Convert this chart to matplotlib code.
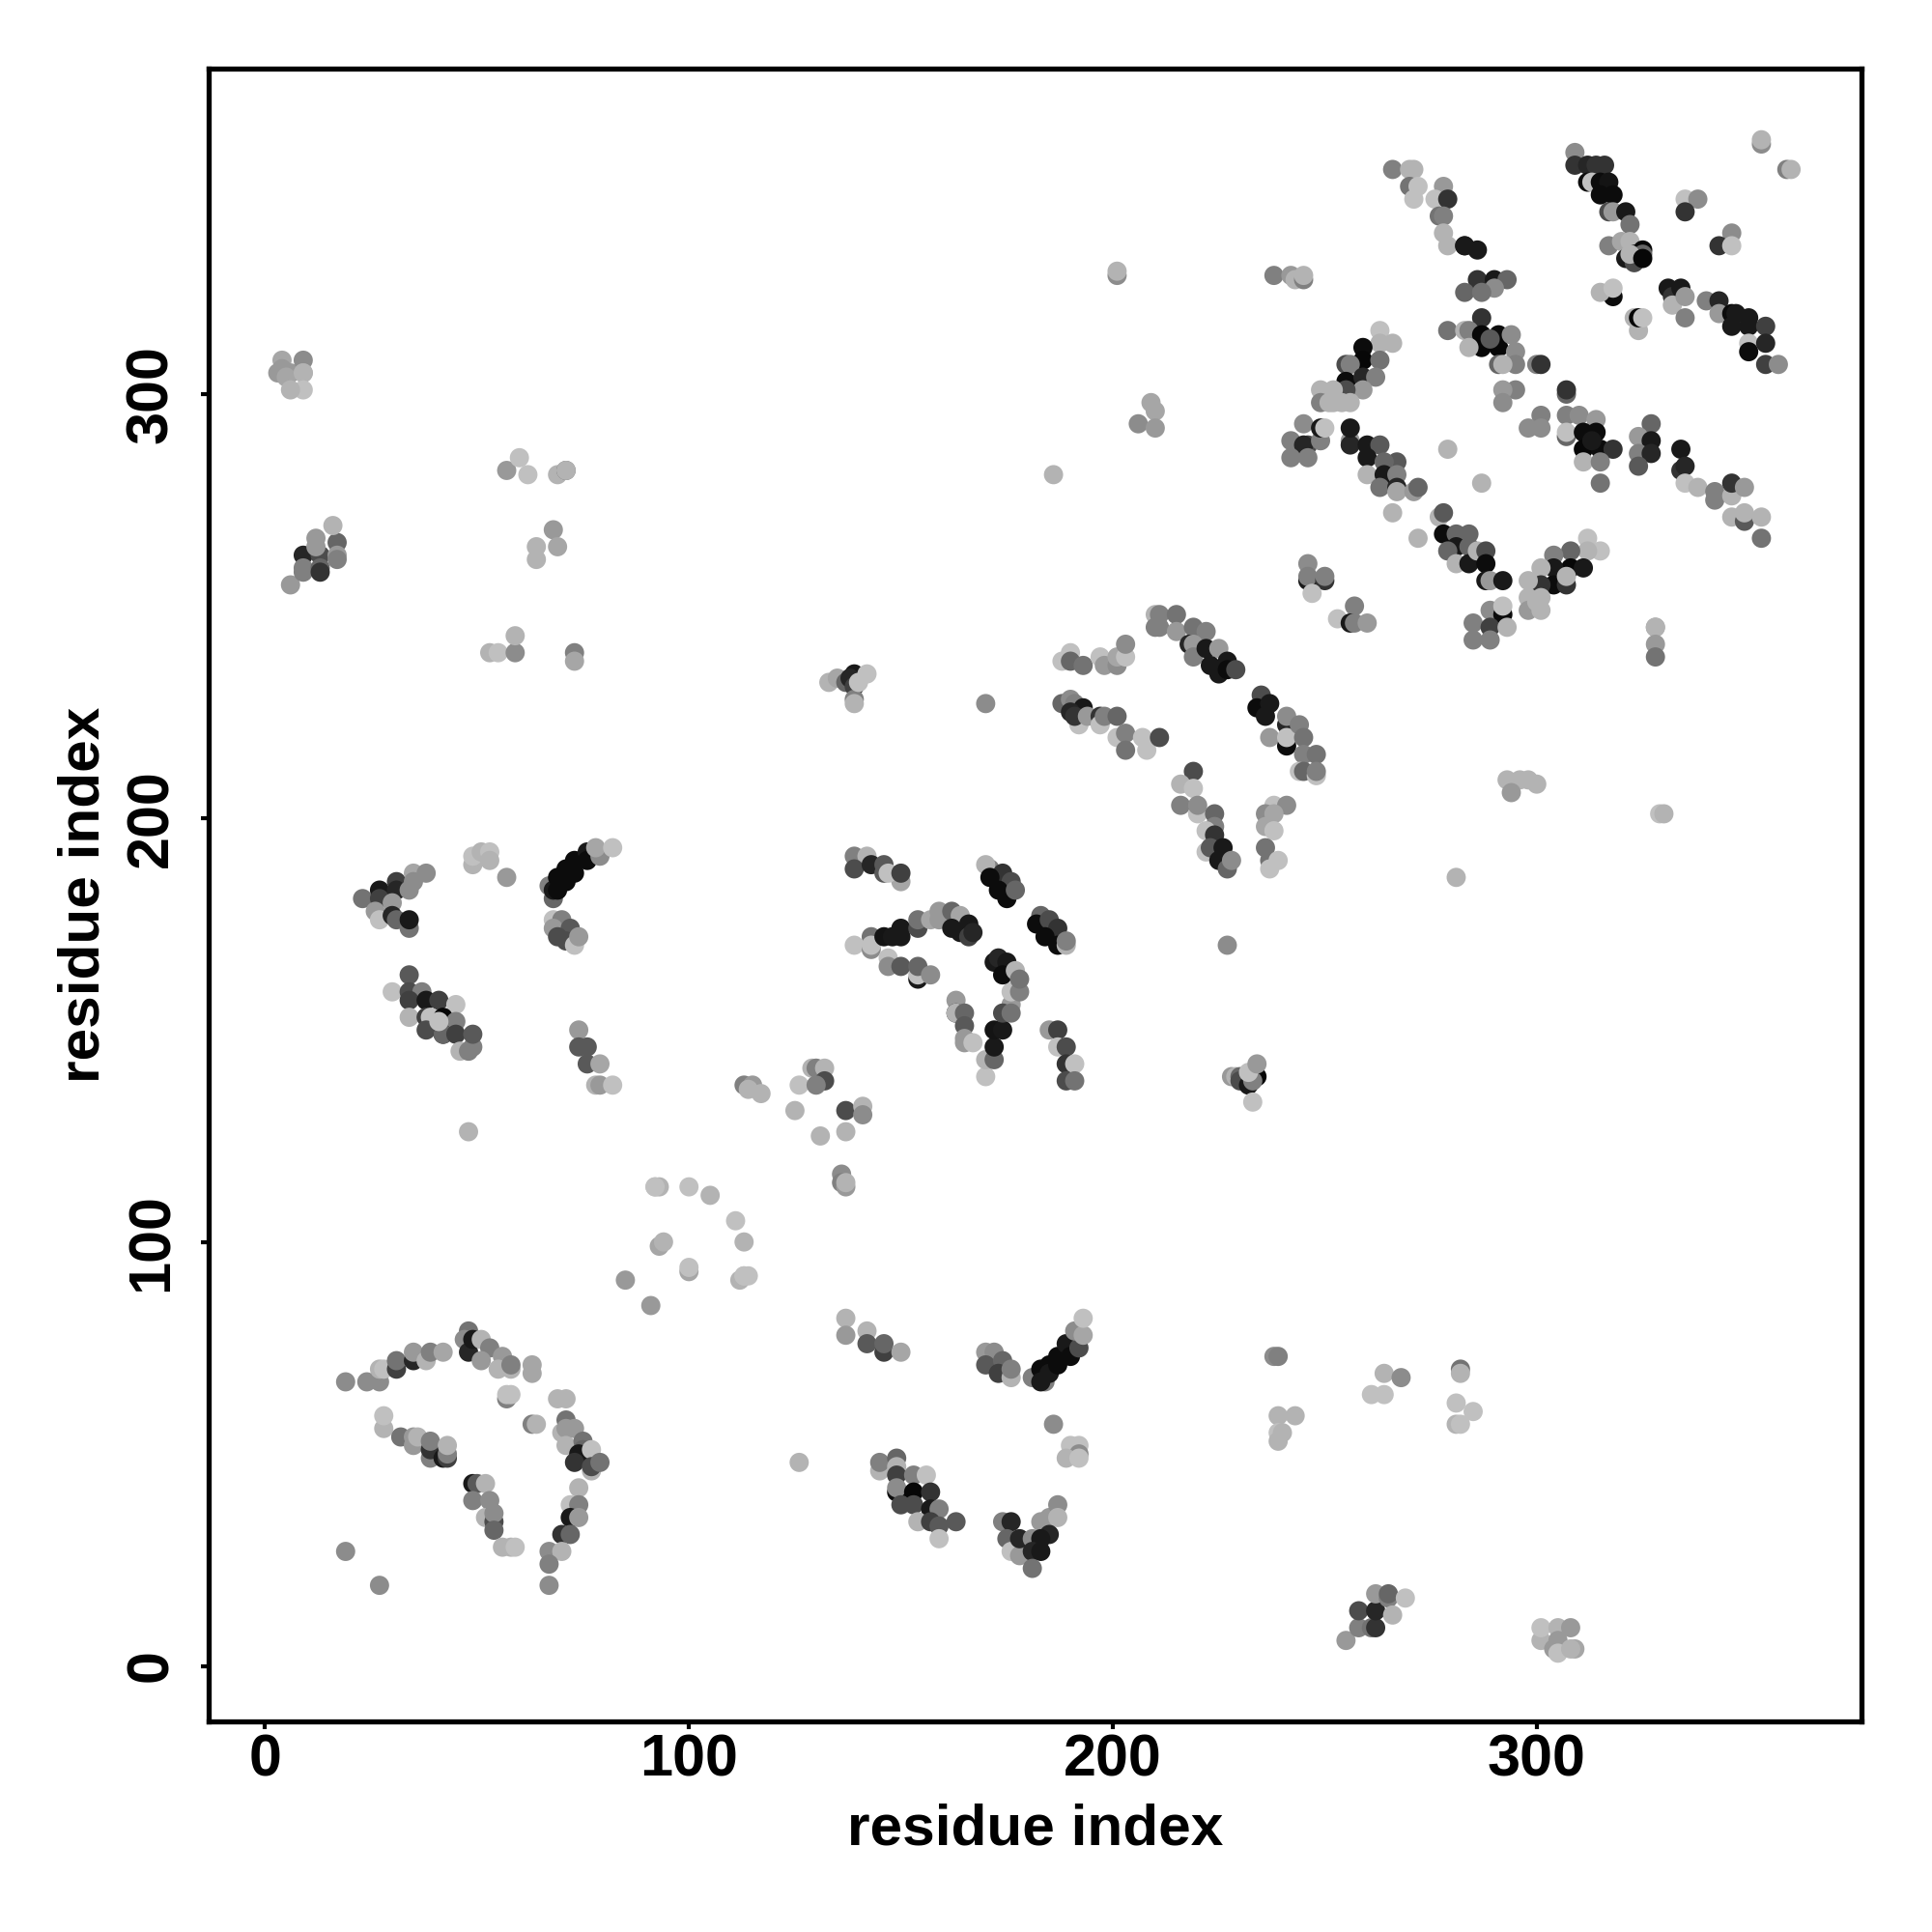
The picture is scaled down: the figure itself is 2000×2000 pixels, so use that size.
import numpy as np
import matplotlib
matplotlib.use("Agg")
import matplotlib.pyplot as plt

plt.rcParams['font.family'] = ['Liberation Sans', 'DejaVu Sans']

# contacts: (residue index, residue index, shade)
strand_top_right = [(309,357,.55),(309,354,.2),(312,354,.15),(314,354,.2),(316,354,.2),(312,350,.05),(313,350,.75),(315,350,.05),(317,350,.08),(315,347,.05),(318,347,.05),(317,343,.3),(318,343,.6),(321,343,.1),(322,340,.45),(317,335,.5),(320,336,.65),(322,336,.7),(321,332,.1),(323,333,.05),(325,334,.03),(323,331,.3),(325,333,.4),(322,333,.7),(325,332,.03),
 (331,325,.1),(332,323,.2),(334,325,.1),(332,321,.7),(335,323,.6),(335,318,.5),(340,322,.5),(343,322,.15),(343,319,.6),(346,319,.05),(347,319,.1),(346,316,.1),(350,316,.1),(350,318,.1),(354,316,.25),(350,312,.75),(350,310,.05),(354,312,.15),(354,307,.25),(357,307,.55)]
strand_top_mid = [(266,353,.5),(270,353,.7),(271,353,.7),(270,349,.45),(272,349,.75),(271,346,.75),(278,349,.6),(276,346,.75),(279,346,.2),(277,342,.45),(278,342,.5),(278,338,.7),(279,335,.7),(283,335,.15),(283,335,.1),(286,334,.1),
 (286,327,.2),(290,327,.1),(293,327,.4),(283,324,.4),(290,325,.55),(287,324,.45),(287,318,.2),(279,315,.45),(283,315,.7),(284,315,.5),(287,314,.03),(287,311,.03),(291,314,.05),(291,311,.03),(289,313,.35),(294,314,.55),(284,311,.7),(295,310,.55),(295,307,.5),(291,307,.4),(292,307,.7),(300,307,.5),(301,307,.2)]
strand_mid_right = [(307,300,.4),(307,301,.2),(295,301,.5),(292,301,.6),(292,298,.55),(301,295,.5),(298,292,.55),(301,292,.55),(307,295,.5),(310,295,.55),(314,294,.6),(307,290,.4),(307,291,.75),(311,291,.05),(314,291,.05),(311,287,.03),(315,287,.05),(313,289,.1),(318,287,.2),(311,284,.7),(315,284,.5),(315,279,.45),
 (327,293,.4),(324,290,.6),(327,289,.1),(324,286,.5),(327,286,.15),(324,283,.35),(334,287,.1),(334,282,.2),(335,283,.15),(335,279,.75),(338,278,.7),(342,277,.5),(342,275,.5),(346,276,.7),(346,279,.2),(349,278,.6),(346,271,.7),(349,270,.35),(349,272,.7),(353,271,.7),(353,266,.45)]
isolated_upper = [(353,359,.55),(353,360,.7),(359,353,.5),(360,353,.7),(335,346,.75),(338,346,.55),(335,343,.2),(346,338,.55),(343,335,.2),(346,335,.75),(318,323,.05),(315,324,.7),(318,325,.75),(324,315,.7),(323,318,.7),(324,318,.03),(325,318,.75),
 (279,287,.7),(287,279,.7),(266,272,.7),(272,266,.7),(238,328,.5),(242,328,.6),(243,327,.7),(245,327,.5),(245,328,.7),(201,328,.55),(201,329,.7),(206,293,.55),(209,298,.65),(210,296,.65),(210,292,.6),(186,281,.7),
 (281,186,.7),(293,209,.7),(296,209,.7),(298,209,.7),(300,208,.7),(294,206,.6),(329,201,.75),(330,201,.7),(227,170,.55),(170,227,.55)]
cluster_255_300 = [(263,315,.75),(263,312,.7),(266,312,.7),(259,311,.05),(259,308,.03),(263,308,.45),(255,307,.3),(256,307,.5),(255,303,.05),(259,304,.15),(262,304,.5),(259,301,.6),(255,301,.3),(252,301,.7),(249,301,.7),(252,298,.7),(256,298,.7),(249,298,.5),(251,298,.7),(254,298,.7),
 (245,293,.55),(242,289,.5),(246,288,.3),(245,288,.15),(249,289,.5),(249,292,.1),(250,292,.75),(242,285,.5),(246,285,.5),
 (256,289,.6),(256,288,.15),(256,292,.1),(260,288,.1),(263,288,.35),(260,285,.1),(260,281,.7),(267,284,.35),(264,284,.4),(264,281,.1),(267,281,.5),(263,278,.45),(267,278,.15),(267,277,.65),(271,277,.6),(272,278,.4)]
cluster_280_265 = [(277,271,.7),(278,272,.35),(278,267,.05),(281,267,.4),(284,267,.4),(281,264,.1),(284,264,.4),(279,263,.4),(281,260,.7),(284,260,.1),(286,263,.7),(288,263,.3),(288,260,.05),(288,256,.1),(289,256,.6),(292,256,.1),
 (312,266,.75),(315,263,.75),(312,263,.7),(308,263,.4),(304,262,.5),(308,259,.03),(311,259,.1),(304,259,.1),(301,259,.7),(304,255,.05),(307,255,.2),(307,257,.7),(301,255,.2),(298,256,.7),(298,252,.7),(298,249,.6),(301,252,.7),(301,249,.7),(300,251,.7),
 (246,260,.55),(246,256,.1),(246,257,.5),(250,256,.2),(250,257,.5),(247,253,.75),(257,250,.5),(253,247,.75),(256,246,.1),(257,246,.5),(260,246,.6),
 (289,249,.55),(292,248,.05),(292,250,.75),(285,246,.5),(289,245,.25),(293,245,.7),(285,242,.5),(289,242,.5),(328,245,.6),(328,245,.7),(328,241,.6),(328,238,.45)]
arc_210_245 = [(210,248,.7),(211,248,.5),(215,248,.45),(210,245,.5),(211,245,.5),(215,244,.6),(219,245,.45),(222,244,.5),(218,241,.15),(219,241,.6),(219,238,.5),(222,240,.1),(225,240,.6),(223,236,.1),(225,234,.1),(227,237,.1),(227,235,.05),(229,235,.3),
 (190,239,.75),(188,237,.75),(190,237,.4),(193,236,.45),(197,238,.75),(198,236,.6),(201,236,.55),(201,238,.65),(203,238,.75),(203,241,.55),
 (188,227,.4),(190,228,.55),(191,227,.5),(193,226,.1),(190,225,.15),(192,222,.75),(191,224,.2),(194,224,.6),(197,224,.2),(197,222,.75),(198,224,.5),(201,224,.4),(201,219,.75),(203,220,.5),(203,216,.45),(207,219,.75),(208,216,.75),(211,219,.3)]
arc_220_200 = [(219,211,.3),(216,208,.7),(219,207,.75),(216,203,.5),(220,201,.75),(220,203,.55),(224,201,.4),(224,198,.5),(222,197,.75),(224,196,.2),(222,192,.75),(223,193,.35),(226,193,.1),(225,190,.1),(227,188,.4),(228,190,.55),
 (238,203,.75),(241,203,.55),(236,201,.55),(238,201,.65),(236,198,.65),(238,197,.75),(236,193,.45),(237,190,.45),(239,190,.75),(237,188,.75),
 (235,229,.3),(234,226,.05),(237,227,.1),(236,224,.1),(241,222,.15),(241,224,.55),(237,219,.6),(241,217,.05),(241,219,.75),(244,222,.5),(245,219,.45),(245,215,.5),(248,215,.45),(244,211,.75),(245,211,.4),(248,210,.75),(248,211,.5)]
strands_centre = [(171,188,.5),(170,189,.7),(174,187,.2),(171,186,.05),(176,185,.3),(173,183,.05),(175,181,.05),(177,183,.4),
 (183,177,.4),(182,175,.05),(185,176,.3),(187,174,.2),(184,172,.05),(187,170,.05),(189,170,.7),(189,171,.5),
 (139,191,.5),(142,191,.7),(139,188,.3),(143,189,.15),(146,189,.35),(146,187,.35),(150,185,.65),(147,187,.75),(150,187,.25),
 (143,172,.45),(139,170,.75),(143,169,.55),(143,170,.75),(146,172,.08),(148,172,.1),(150,174,.1),(150,172,.1),(154,174,.3),(154,176,.45),(157,176,.65),(159,178,.6),(159,176,.6),(162,178,.4),(164,177,.65),(162,174,.1),(164,173,.1),(166,175,.1),(166,172,.25),(167,173,.15),
 (147,167,.75),(147,165,.55),(150,165,.35),(154,162,.1),(154,163,.75),(154,165,.4),(157,163,.55)]
arcs_centre_lower = [(163,157,.6),(163,154,.1),(163,154,.7),(165,154,.4),(165,151,.35),(165,147,.6),(165,148,.6),(167,147,.75),(170,139,.75),(170,143,.7),(172,143,.4),(172,146,.1),(172,150,.08),(174,150,.1),
 (176,156,.6),(174,154,.3),(176,154,.45),(176,159,.75),(178,159,.5),(172,166,.1),(173,167,.15),(175,166,.1),(174,163,.05),(177,164,.7),(178,162,.45),
 (185,150,.6),(187,150,.25),(187,146,.75),(189,146,.3),(189,142,.2),(191,142,.75),(189,138,.3),(191,138,.45),
 (129,141,.7),(130,141,.5),(132,141,.7),(126,137,.75),(132,138,.3),(130,137,.5),(125,131,.7),(131,125,.7),(137,131,.3),(141,132,.7),(141,130,.55),(137,126,.7),
 (136,116,.55),(136,114,.5),(137,113,.6),(137,114,.7),(113,137,.5),(115,137,.6),(114,136,.7),(117,135,.7),(133,232,.7),(135,233,.65),(137,232,.4),(139,234,.1),(138,233,.15),(139,231,.25),(139,228,.5),(139,227,.7),(140,232,.75),(142,234,.75)]
left_190 = [(23,181,.45),(27,183,.1),(27,181,.25),(31,185,.25),(31,183,.15),(35,187,.65),(38,187,.55),(35,185,.55),(34,183,.55),(30,180,.6),(26,178,.6),(27,176,.75),(30,177,.15),(31,176,.4),(34,174,.45),(34,176,.1),
 (49,189,.7),(49,191,.75),(51,192,.7),(53,192,.75),(53,190,.7),(57,186,.6),
 (68,181,.4),(67,184,.5),(68,183,.1),(69,186,.05),(69,183,.05),(71,188,.05),(71,185,.05),(73,190,.05),(73,187,.05),(76,192,.1),(76,190,.05),(79,191,.55),(78,193,.65),(82,193,.75),
 (68,176,.75),(70,176,.5),(68,174,.6),(72,174,.35),(69,172,.3),(71,171,.3),(73,170,.75),(74,172,.6)]
left_150 = [(34,163,.35),(30,159,.75),(34,159,.3),(37,159,.5),(34,157,.25),(38,157,.1),(41,157,.25),(45,156,.75),(34,153,.7),(38,153,.25),(39,153,.75),(42,153,.03),(45,152,.5),(38,150,.3),(42,149,.1),(42,149,.4),(41,152,.75),(45,149,.25),(46,145,.7),(48,145,.5),(49,146,.5),(49,149,.35),
 (74,150,.6),(74,146,.35),(76,146,.35),(76,142,.35),(79,142,.65),(78,137,.7),(79,137,.6),(82,137,.75),(48,126,.7)]
corner_left = [(4,308,.65),(4,306,.6),(3,305,.6),(6,305,.6),(5,304,.65),(9,308,.55),(9,305,.65),(9,305,.7),(9,301,.75),(6,301,.7),
 (6,255,.6),(9,262,.15),(9,259,.5),(9,258,.5),(13,262,.3),(13,259,.4),(13,258,.2),(12,264,.6),(12,266,.6),(17,265,.4),(16,269,.7),(17,262,.6),(17,261,.5),
 (57,282,.6),(60,285,.75),(62,281,.75),(69,281,.7),(71,282,.4),(71,282,.7),(68,268,.6),(64,264,.7),(64,261,.7),(69,264,.65),
 (53,239,.7),(55,239,.75),(59,239,.55),(59,243,.7),(73,239,.5),(73,237,.65)]
centre_ring = [(92,113,.75),(93,113,.7),(92,113,.75),(100,113,.75),(105,111,.7),(111,105,.75),(113,100,.7),(93,99,.65),(94,100,.7),(100,93,.65),(100,94,.75),(112,91,.7),(113,92,.75),(113,92,.75),(114,92,.75),(85,91,.6),(91,85,.6)]
lower_left_arc = [(19,67,.55),(24,67,.55),(27,67,.55),(27,70,.7),(28,70,.75),(31,70,.25),(31,72,.45),(35,72,.15),(35,74,.6),(38,72,.7),(39,74,.5),(42,74,.65),
 (48,79,.45),(47,77,.55),(48,74,.15),(49,77,.1),(51,77,.7),(53,75,.5),(51,72,.6),(56,73,.6),(55,70,.7),(58,70,.7),(58,71,.5),(63,69,.65),(63,71,.65),
 (57,63,.5),(57,64,.75),(58,64,.75),(69,63,.7),(71,63,.7),(63,57,.5),(64,57,.7),
 (28,56,.7),(28,59,.75),(32,54,.45),(35,52,.6),(35,54,.6),(36,54,.7),(39,49,.5),(39,51,.2),(39,53,.5),(42,49,.1),(43,49,.25),(43,50,.5),(43,52,.7)]
lower_left_inner = [(49,43,.1),(50,43,.35),(52,43,.7),(49,39,.5),(53,39,.55),(52,35,.7),(54,34,.3),(54,36,.55),(54,32,.4),(56,28,.7),(58,28,.7),(59,28,.75),
 (74,42,.7),(72,38,.75),(74,38,.5),(72,35,.1),(74,35,.6),(70,31,.2),(72,31,.4),(67,27,.55),(70,27,.7),(67,24,.5),(67,19,.55),(19,27,.55),(27,19,.55),
 (70,55,.7),(71,58,.45),(71,56,.6),(71,52,.7),(73,56,.6),(75,53,.45),(75,51,.4),(74,50,.1),(73,48,.2),(77,51,.75),(77,46,.7),(77,47,.3),(79,48,.45)]
lower_centre = [(137,82,.7),(137,78,.6),(142,79,.7),(142,76,.35),(146,74,.25),(146,76,.4),(150,74,.65),
 (170,74,.6),(172,74,.55),(170,71,.35),(174,72,.4),(173,69,.25),(176,68,.7),(176,70,.5),
 (181,68,.5),(184,67,.5),(183,70,.05),(183,67,.1),(185,71,.05),(185,69,.1),(187,73,.05),(187,71,.05),(189,76,.1),(190,73,.05),(192,75,.3),(191,79,.55),(193,78,.65),(193,82,.75),
 (186,57,.55),(190,52,.75),(192,52,.75),(192,50,.55),(189,49,.7),(192,49,.75),(126,48,.7)]
lower_centre_blocks = [(145,46,.7),(145,48,.5),(149,49,.4),(149,47,.7),(149,45,.25),(153,45,.5),(156,45,.75),(149,41,.05),(149,42,.55),(153,41,.03),(157,41,.2),(150,38,.3),(153,38,.3),(157,37,.1),(159,37,.5),(154,34,.7),(157,34,.25),(159,33,.35),(163,34,.35),(159,30,.75),
 (174,34,.5),(176,34,.15),(175,30,.4),(176,27,.75),(178,26,.6),(178,30,.15),(181,30,.55),(183,34,.6),(185,35,.6),(187,38,.55),(187,35,.7),(185,31,.15),(183,30,.1),(181,27,.15),(183,27,.1),(181,23,.45)]
lower_right = [(255,6,.6),(258,9,.5),(258,13,.3),(261,9,.45),(262,9,.2),(262,13,.15),(262,17,.6),(265,16,.5),(265,17,.4),(266,12,.7),(269,16,.75),
 (301,6,.7),(301,9,.75),(305,9,.7),(305,6,.6),(304,4,.6),(305,3,.75),(308,9,.6),(309,4,.65),(308,4,.7),
 (238,73,.55),(239,73,.5),(239,59,.7),(243,59,.7),(239,55,.75),(240,55,.7),(239,53,.7),
 (264,69,.7),(268,68,.55),(261,64,.75),(264,64,.75),(282,70,.45),(282,69,.7),(281,62,.75),(285,60,.75),(281,57,.7),(282,57,.75),
 (228,139,.6),(229,139,.7),(230,139,.4),(230,138,.3),(234,139,.03),(232,137,.1),(233,138,.5),(232,140,.75),(234,142,.6),(233,133,.75)]

regions = [strand_top_right, strand_top_mid, strand_mid_right, isolated_upper, cluster_255_300,
           cluster_280_265, arc_210_245, arc_220_200, strands_centre, arcs_centre_lower, left_190,
           left_150, corner_left, centre_ring, lower_left_arc, lower_left_inner, lower_centre,
           lower_centre_blocks, lower_right]

tick_values = [0, 100, 200, 300]
axis_title = "residue index"

fig = plt.figure(figsize=(20, 20), dpi=100)
ax = fig.add_axes([0.1078, 0.109, 0.8559, 0.8553])
for region in regions:
    xs, ys, shades = zip(*region)
    ax.scatter(xs, ys, c=shades, cmap='gray', vmin=0, vmax=1, s=205, linewidths=0)
ax.set_xlim(-13.4, 376.7)
ax.set_ylim(-13.1, 376.7)
ax.set_xticks(tick_values)
ax.set_yticks(tick_values)
ax.tick_params(axis='both', length=6, width=3, labelsize=44)
ax.tick_params(axis='x', pad=3)
ax.tick_params(axis='y', pad=15)
for lab in ax.get_xticklabels():
    lab.set_fontweight('bold')
for lab in ax.get_yticklabels():
    lab.set_fontweight('bold')
    lab.set_rotation(90)
    lab.set_va('center')
for sp in ax.spines.values():
    sp.set_linewidth(3.8)
ax.set_xlabel(axis_title, fontsize=43.5, fontweight='bold', labelpad=11)
ax.set_ylabel(axis_title, fontsize=43.5, fontweight='bold', labelpad=11)
fig.savefig("out.png", dpi=100)
